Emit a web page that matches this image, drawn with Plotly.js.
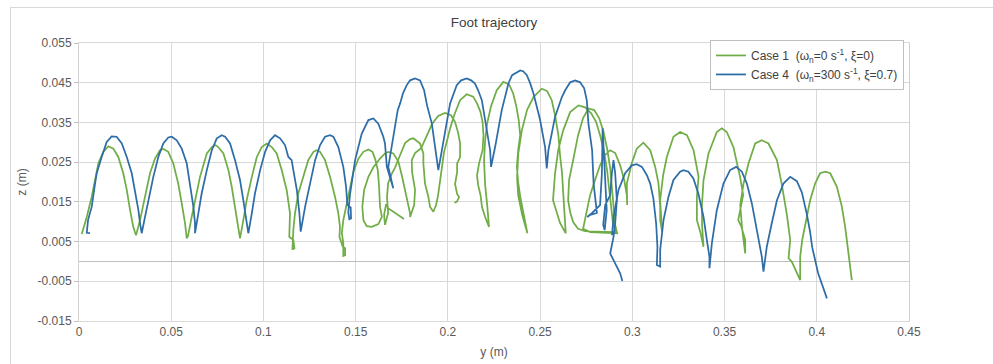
<!DOCTYPE html>
<html>
<head>
<meta charset="utf-8">
<script src="https://cdn.plot.ly/plotly-3.0.1.min.js"></script>
<style>
  html, body { margin: 0; padding: 0; background: #ffffff; overflow: hidden; }
  #frame { position: absolute; left: 10px; top: 7px; width: 2000px; height: 2000px; border: 1px solid #d9d9d9; box-sizing: border-box; }
  #chart { position: absolute; left: 0; top: 0; width: 993px; height: 364px; }
</style>
</head>
<body>
<div id="frame"></div>
<div id="chart"></div>
<script>
// ---- Case 1 (green): foot trajectory, y (m) and z (m); null = pen lift
const case1Y = [
  0.0015,0.0042,0.0069,0.0087,0.0105,0.0132,0.0159,0.0186,0.0213,0.024,0.0259,0.0277,0.0294,0.0309,
  0.0331,0.0358,0.0385,0.0412,0.0439,0.0457,0.0484,0.0511,0.0538,0.0557,0.0575,0.0584,0.0591,
  0.0611,0.0638,0.0656,0.0693,0.072,0.0738,0.0755,0.0783,0.081,0.0828,0.0846,0.0864,0.0873,
  0.0891,0.0909,0.0937,0.0964,0.0991,0.1018,0.1045,0.1072,0.1099,0.1126,0.1144,0.114,0.1162,0.1168,0.1157,
  0.1162,0.1171,0.1189,0.1216,0.1243,0.1271,0.1289,0.1307,0.1334,0.1361,0.1388,0.1406,0.1415,0.1412,0.143,0.1443,0.1443,0.1433,
  0.1433,0.1425,0.1433,0.1452,0.147,0.1488,0.1515,0.1542,0.1569,0.1591,0.1605,0.162,0.1627,0.1632,0.1642,
  0.1623,0.1587,0.156,0.1542,0.1536,0.1546,0.1569,0.1596,0.1632,0.1659,0.1677,0.1704,0.1732,0.175,0.1768,0.1783,0.1795,0.1795,
  0.1817,0.1822,0.1806,0.1804,0.1822,0.1855,0.1882,0.1914,0.1947,0.1985,0.2017,0.2039,0.2055,0.2066,0.2066,0.205,0.205,0.2039,0.205,0.2061,0.2048,0.2035,
  null,
  0.1762,0.173,0.1703,0.1676,0.1665,0.1654,0.1659,
  0.1676,0.167,0.1676,0.1697,0.1714,0.1741,0.1768,0.1795,0.1813,0.1849,0.1867,0.1867,0.1876,0.1894,0.1903,0.1921,
  0.1936,0.1947,0.1958,0.1967,0.1979,0.1996,0.2012,0.2034,0.2066,0.2102,0.2137,0.2158,0.2177,0.2188,0.2193,0.2188,0.2169,0.2158,0.2164,0.2177,0.2185,0.2202,0.2223,
  0.2213,0.2202,0.2196,0.2202,0.2213,0.2234,0.2265,0.2301,0.2332,0.2354,0.237,0.2384,0.2392,0.2381,0.2374,0.2381,0.2392,0.2408,0.2419,0.2431,
  0.2403,0.2381,0.2375,0.2382,0.2401,0.2429,0.2464,0.2509,0.2538,0.2563,0.2581,0.2599,0.2608,0.2619,0.2626,0.2633,0.2639,
  0.2608,0.2587,0.257,0.2581,0.2598,0.2625,0.2663,0.2708,0.2744,0.2777,0.2804,0.2825,0.2847,0.2863,0.2874,0.2885,0.2896,0.2912,
  0.2853,0.2798,0.2744,0.2706,0.2679,0.2663,0.2652,0.2657,0.2679,0.2706,0.2733,0.2762,0.2793,0.282,0.2842,0.2863,0.288,0.289,0.2901,0.2907,0.2918,
  0.2825,0.2771,0.2733,0.2749,0.2771,0.2798,0.2825,0.2853,0.288,0.2907,0.2934,0.2956,0.297,0.2972,
  0.297,0.2997,0.3024,0.306,0.3097,0.3124,0.3142,0.3151,0.3151,0.3161,
  0.3151,0.3167,0.3187,0.3223,0.3259,0.3296,0.3332,0.3359,0.335,0.335,0.3368,0.3386,
  0.3378,0.3377,0.3386,0.3413,0.3458,0.3485,0.3512,0.3548,0.3584,0.3601,0.3574,0.359,0.3612,0.3612,
  0.3595,0.3585,0.3603,0.363,0.3666,0.3702,0.3738,0.3784,0.3811,0.3838,0.3856,0.3847,0.3865,0.391,
  0.391,0.3921,0.3938,0.3964,0.3991,0.4018,0.4046,0.4073,0.4109,0.4136,0.4154,0.4172,0.4185,0.419
];
const case1Z = [
  0.0069,0.0112,0.0163,0.0205,0.0247,0.0276,0.029,0.0284,0.0263,0.0222,0.018,0.0129,0.0087,0.0066,
  0.0104,0.0163,0.0222,0.0259,0.028,0.0283,0.0276,0.0247,0.0196,0.0146,0.0096,0.0058,0.0064,
  0.0112,0.0171,0.0213,0.0272,0.0288,0.0293,0.0288,0.0272,0.023,0.0188,0.0138,0.0087,0.0058,
  0.0104,0.0154,0.0213,0.0263,0.0288,0.0297,0.0288,0.0272,0.023,0.018,0.0121,0.0062,0.0054,0.0033,0.003,
  0.0079,0.0121,0.0171,0.0213,0.0255,0.0276,0.028,0.0276,0.0255,0.0213,0.0163,0.0121,0.0087,0.0062,0.0037,0.0033,0.0016,0.0014,
  0.0046,0.0071,0.0104,0.0146,0.0188,0.0226,0.0259,0.0276,0.0282,0.0276,0.0259,0.023,0.0188,0.0138,0.0112,
  0.0094,0.0087,0.0089,0.0104,0.0138,0.018,0.0213,0.0237,0.0259,0.0272,0.0276,0.0272,0.0251,0.0217,0.018,0.0146,0.0121,0.0112,
  0.0142,0.018,0.0225,0.0255,0.0273,0.0285,0.0313,0.0346,0.0366,0.0374,0.0368,0.0351,0.0325,0.0298,0.0262,0.0247,0.0225,0.0195,0.017,0.0162,0.015,0.0148,
  null,
  0.0107,0.0117,0.0124,0.0134,0.0144,0.0117,0.0092,
  0.0122,0.0162,0.0197,0.0222,0.0237,0.0268,0.0298,0.0308,0.031,0.0297,0.0272,0.0247,0.0196,0.0163,0.0138,0.0125,
  0.0142,0.0167,0.0205,0.0242,0.0275,0.0305,0.0335,0.0368,0.0406,0.0421,0.0415,0.0398,0.0376,0.0351,0.0318,0.028,0.0247,0.0217,0.0192,0.0167,0.0137,0.0112,0.0087,
  0.0142,0.0192,0.0255,0.0305,0.0348,0.0391,0.0431,0.0452,0.0446,0.0423,0.0393,0.0356,0.0318,0.028,0.0238,0.02,0.0164,0.0129,0.0099,0.0071,
  0.0117,0.0167,0.0212,0.0273,0.033,0.0381,0.0414,0.0435,0.0429,0.0406,0.0368,0.0318,0.0268,0.0222,0.0167,0.0117,0.0071,
  0.0097,0.0128,0.0154,0.0222,0.028,0.033,0.0376,0.0393,0.0388,0.0373,0.0351,0.0318,0.0275,0.023,0.018,0.0137,0.0092,0.0074,
  0.0074,0.0075,0.0076,0.0082,0.0099,0.0124,0.0154,0.0205,0.0255,0.0318,0.0361,0.0385,0.0381,0.0361,0.033,0.0285,0.0235,0.0185,0.0134,0.0092,0.0071,
  0.0073,0.0074,0.0082,0.0117,0.0167,0.0205,0.0242,0.0268,0.028,0.0273,0.0242,0.0205,0.0167,0.0142,
  0.0196,0.0247,0.0284,0.0299,0.028,0.0238,0.0196,0.0138,0.0104,0.0075,
  0.0154,0.0217,0.0263,0.0314,0.0326,0.0318,0.028,0.0213,0.0163,0.0104,0.0075,0.0037,
  0.0092,0.0138,0.0205,0.0272,0.0326,0.0335,0.0326,0.0288,0.0213,0.0167,0.0104,0.0089,0.0054,0.002,
  0.0084,0.0142,0.0196,0.0247,0.0297,0.0305,0.0297,0.0255,0.0192,0.0117,0.0054,0.0008,-0.0001,-0.0047,
  0.0012,0.0054,0.0096,0.0154,0.0196,0.0222,0.0226,0.0222,0.0188,0.0138,0.0087,0.002,-0.003,-0.0047
];

// ---- Case 4 (blue)
const case4Y = [
  0.006,0.0042,0.0049,0.0069,0.0087,0.0096,0.0123,0.015,0.0177,0.0204,0.0232,0.0259,0.0286,0.0304,0.0322,0.0331,0.034,
  0.0358,0.0376,0.0403,0.043,0.0457,0.0484,0.0503,0.053,0.0557,0.0584,0.0602,0.062,0.0629,0.0629,
  0.0647,0.0665,0.0693,0.072,0.0747,0.0774,0.0792,0.0819,0.0846,0.0873,0.0891,0.0909,0.0918,
  0.0937,0.0954,0.0982,0.1009,0.1036,0.1063,0.109,0.1117,0.1135,0.1153,0.1162,0.1181,0.1195,0.1202,
  0.1226,0.1253,0.128,0.1307,0.1334,0.1361,0.1379,0.1406,0.1433,0.1448,0.1455,0.1473,0.1475,0.1466,
  0.146,0.147,0.1497,0.1533,0.1569,0.1596,0.1623,0.165,0.1659,0.1669,0.1687,0.1704,
  0.1677,0.1692,0.1708,0.1728,0.1741,0.1757,0.1777,0.1795,0.1822,0.1849,0.1871,0.1887,0.1913,0.1931,0.1948,
  0.1958,0.1985,0.2012,0.2048,0.2072,0.2102,0.2126,0.2147,0.2164,0.2184,0.2211,0.2229,0.2234,
  0.2256,0.2292,0.2328,0.2348,0.2374,0.2392,0.2408,0.2428,0.2446,0.2464,0.25,0.2527,0.2536,
  0.2545,0.2581,0.2618,0.2636,0.2663,0.269,0.2717,0.2739,0.2753,0.2762,0.2782,0.279,0.2798,0.2808,0.2771,0.2755,0.2782,0.2825,0.2835,0.2839,
  0.2845,0.2853,0.2861,0.285,0.2842,0.2853,0.287,0.288,0.2889,0.2898,0.2907,0.2912,0.2916,0.2907,0.2898,0.288,0.2907,0.2934,0.2946,
  null,
  0.289,0.2898,0.2925,0.2961,0.2997,0.3024,0.3052,0.3079,0.3097,0.3114,0.3129,0.3136,0.3133,0.3151,
  0.3151,0.3169,0.3196,0.3223,0.3259,0.3277,0.3304,0.3331,0.3358,0.3386,0.3404,0.3418,0.3418,
  0.3431,0.3458,0.3494,0.353,0.3563,0.3594,0.3621,0.3648,0.3675,0.3702,0.3711,
  0.3729,0.3756,0.3784,0.3819,0.3856,0.3892,0.3919,0.3946,0.3964,0.3975,0.4007,0.4055
];
const case4Z = [
  0.0071,0.0072,0.0104,0.0138,0.0196,0.0222,0.0263,0.0301,0.0315,0.0314,0.0297,0.0263,0.0222,0.018,0.0129,0.0096,0.0071,
  0.0112,0.0154,0.0213,0.0263,0.0297,0.0312,0.0314,0.0305,0.0284,0.0247,0.0196,0.0138,0.0096,0.0071,
  0.0121,0.0171,0.023,0.028,0.031,0.0318,0.0314,0.0297,0.0255,0.0205,0.0154,0.0104,0.0071,
  0.0121,0.0171,0.023,0.0276,0.0305,0.0318,0.031,0.0293,0.0263,0.0255,0.023,0.018,0.0121,0.0075,
  0.0138,0.0196,0.0255,0.0293,0.0314,0.0318,0.0314,0.0288,0.0238,0.0188,0.0142,0.0136,0.0108,0.0106,
  0.0124,0.0171,0.0255,0.0322,0.0356,0.036,0.0347,0.0314,0.0297,0.0238,0.0209,0.0184,
  0.0238,0.028,0.033,0.0381,0.0398,0.0424,0.0444,0.0456,0.0461,0.0456,0.0431,0.0393,0.0347,0.0288,0.023,
  0.0255,0.033,0.0398,0.0444,0.0456,0.0461,0.0456,0.0448,0.0431,0.0406,0.033,0.028,0.0238,
  0.0288,0.0381,0.0448,0.0469,0.0477,0.0481,0.0479,0.0469,0.0449,0.0423,0.0356,0.0288,0.0234,
  0.028,0.0364,0.0414,0.0431,0.0451,0.0456,0.0451,0.0436,0.0406,0.0347,0.028,0.0196,0.0154,0.0122,0.0117,0.0112,0.0122,0.0142,0.0222,0.0335,
  0.028,0.0196,0.0129,0.0079,0.0092,0.0142,0.0159,0.0167,0.0222,0.0255,0.0222,0.0192,0.0154,0.0096,0.0062,0.002,-0.0005,-0.003,-0.0049,
  null,
  0.0066,0.0112,0.018,0.0222,0.0242,0.0245,0.0238,0.0217,0.0196,0.0159,0.0096,0.0037,-0.0009,-0.0013,
  0.0029,0.0104,0.0163,0.0205,0.0226,0.023,0.0226,0.0209,0.0171,0.0112,0.0054,0.0012,-0.0017,
  0.0045,0.0129,0.0196,0.023,0.0238,0.0226,0.0196,0.0146,0.0079,0.0012,-0.0026,
  0.0037,0.0096,0.0154,0.0196,0.0213,0.0202,0.0174,0.0119,0.0074,0.0036,-0.0029,-0.0093
];

// ---- labels and ticks
const chartTitle = 'Foot trajectory';
const xTitle = 'y (m)';
const yTitle = 'z (m)';
const case1Name = 'Case 1  (ω<sub>n</sub>=0 s<sup>-1</sup>, ξ=0)';
const case4Name = 'Case 4  (ω<sub>n</sub>=300 s<sup>-1</sup>, ξ=0.7)';
const xTickVals = [0, 0.05, 0.1, 0.15, 0.2, 0.25, 0.3, 0.35, 0.4, 0.45];
const xTickText = ['0', '0.05', '0.1', '0.15', '0.2', '0.25', '0.3', '0.35', '0.4', '0.45'];
const yTickVals = [-0.015, -0.005, 0.005, 0.015, 0.025, 0.035, 0.045, 0.055];
const yTickText = ['-0.015', '-0.005', '0.005', '0.015', '0.025', '0.035', '0.045', '0.055'];

const FONT = 'Liberation Sans, Arial, sans-serif';
const traces = [
  { x: case1Y, y: case1Z, name: case1Name, type: 'scatter', mode: 'lines',
    connectgaps: false, line: { color: '#70AD47', width: 1.75 } },
  { x: case4Y, y: case4Z, name: case4Name, type: 'scatter', mode: 'lines',
    connectgaps: false, line: { color: '#2E6DA8', width: 1.75 } }
];

const layout = {
  width: 993, height: 364,
  margin: { l: 79, r: 84, t: 43, b: 43, pad: 0 },
  paper_bgcolor: 'rgba(0,0,0,0)',
  plot_bgcolor: '#ffffff',
  font: { family: FONT, size: 12, color: '#595959' },
  title: { text: chartTitle, x: 0.5, xref: 'paper', xanchor: 'center',
           y: 1 - 22 / 364, yref: 'container', yanchor: 'middle',
           font: { family: FONT, size: 13.5, color: '#404040' } },
  showlegend: true,
  legend: { x: (710 - 79) / 830, y: 1.011, xanchor: 'left', yanchor: 'top',
            bgcolor: '#ffffff', bordercolor: '#bfbfbf', borderwidth: 1,
            font: { family: FONT, size: 12, color: '#404040' },
            tracegroupgap: 0 },
  xaxis: { range: [0, 0.45], tickvals: xTickVals, ticktext: xTickText,
           showgrid: true, gridcolor: '#d9d9d9', gridwidth: 1,
           zeroline: false, showline: true, linecolor: '#d9d9d9', mirror: true,
           ticks: '', automargin: false,
           tickfont: { family: FONT, size: 12, color: '#595959' },
           title: { text: xTitle, standoff: 9, font: { family: FONT, size: 12, color: '#595959' } } },
  yaxis: { range: [-0.015, 0.055], tickvals: yTickVals, ticktext: yTickText,
           showgrid: true, gridcolor: '#d9d9d9', gridwidth: 1,
           zeroline: true, zerolinecolor: '#bfbfbf', zerolinewidth: 1,
           showline: true, linecolor: '#d0d0d0', mirror: true,
           ticks: 'outside', ticklen: 4, tickcolor: '#bfbfbf', automargin: false,
           tickfont: { family: FONT, size: 12, color: '#595959' },
           title: { text: yTitle, standoff: 8, font: { family: FONT, size: 12, color: '#595959' } } },
  hovermode: false
};

Plotly.newPlot('chart', traces, layout, { displayModeBar: false, staticPlot: true });
</script>
</body>
</html>
